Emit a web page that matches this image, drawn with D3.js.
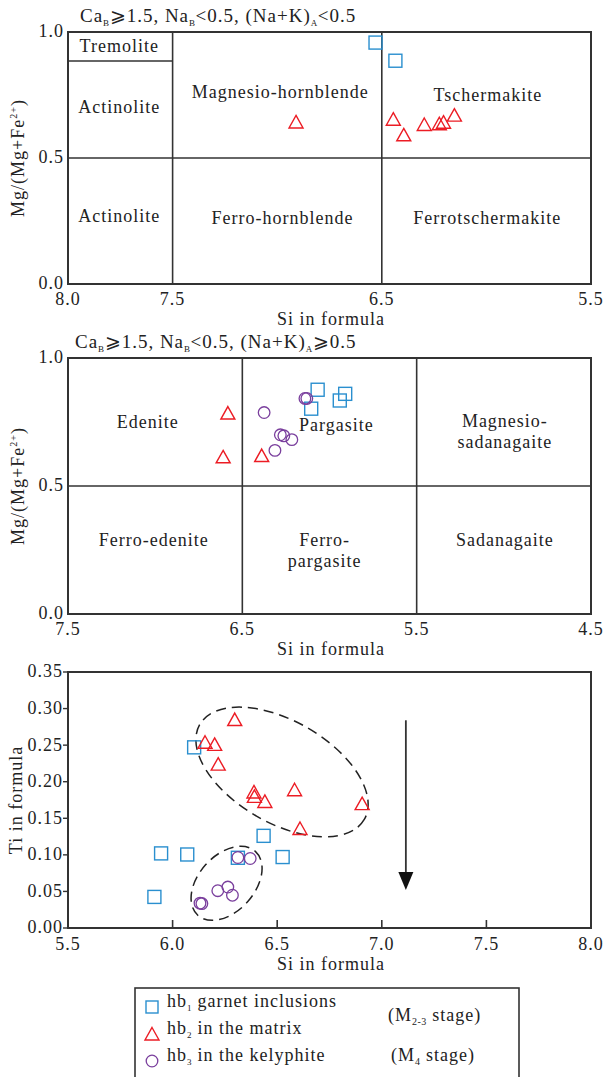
<!DOCTYPE html>
<html>
<head>
<meta charset="utf-8">
<script src="https://cdn.jsdelivr.net/npm/d3@7"></script>
<style>
  html, body { margin: 0; padding: 0; background: #fff; }
  svg { display: block; font-family: "Liberation Serif", "Times New Roman", serif; letter-spacing: 1px; }
</style>
</head>
<body>
<svg id="chart" width="606" height="1077"></svg>
<script>
// ---- data ----
// panel 1: Si vs Mg/(Mg+Fe2+), (Na+K)A < 0.5
const p1Squares = [[6.53, 0.958], [6.435, 0.886]];
const p1Triangles = [[6.91, 0.643], [6.445, 0.654], [6.395, 0.592], [6.297, 0.633],
                     [6.225, 0.636], [6.205, 0.642], [6.153, 0.670]];
// panel 2: (Na+K)A >= 0.5
const p2Squares = [[6.068, 0.876], [6.105, 0.802], [5.910, 0.860], [5.941, 0.834]];
const p2Triangles = [[6.583, 0.785], [6.61, 0.614], [6.389, 0.619]];
const p2Circles = [[6.375, 0.787], [6.313, 0.639], [6.282, 0.700], [6.262, 0.696],
                   [6.216, 0.681], [6.141, 0.842], [6.130, 0.842]];
// panel 3: Si vs Ti
const p3Squares = [[6.103, 0.247], [5.945, 0.102], [6.070, 0.1005], [5.913, 0.0425],
                   [6.312, 0.096], [6.435, 0.126], [6.526, 0.097]];
const p3Triangles = [[6.297, 0.285], [6.155, 0.254], [6.201, 0.251], [6.218, 0.224],
                     [6.389, 0.186], [6.391, 0.180], [6.441, 0.173], [6.583, 0.189],
                     [6.609, 0.136], [6.906, 0.170]];
const p3Circles = [[6.312, 0.0964], [6.371, 0.095], [6.216, 0.051], [6.264, 0.056],
                   [6.286, 0.0448], [6.131, 0.034], [6.140, 0.0334]];

const p1XTicks = [8.0, 7.5, 6.5, 5.5];
const p2XTicks = [7.5, 6.5, 5.5, 4.5];
const p3XTicks = [5.5, 6.0, 6.5, 7.0, 7.5, 8.0];
const mgTicks = [0.0, 0.5, 1.0];
const tiTicks = [0.00, 0.05, 0.10, 0.15, 0.20, 0.25, 0.30, 0.35];

const p1Fields = [
  { t: ["Tremolite"], x: 7.755, y: 0.946 },
  { t: ["Actinolite"], x: 7.755, y: 0.703 },
  { t: ["Actinolite"], x: 7.755, y: 0.270 },
  { t: ["Magnesio-hornblende"], x: 6.985, y: 0.762 },
  { t: ["Ferro-hornblende"], x: 6.975, y: 0.264 },
  { t: ["Tschermakite"], x: 5.993, y: 0.752 },
  { t: ["Ferrotschermakite"], x: 5.996, y: 0.264 }
];
const p2Fields = [
  { t: ["Edenite"], x: 7.042, y: 0.752 },
  { t: ["Pargasite"], x: 5.961, y: 0.739 },
  { t: ["Magnesio-", "sadanagaite"], x: 4.994, y: 0.713 },
  { t: ["Ferro-edenite"], x: 7.008, y: 0.289 },
  { t: ["Ferro-", "pargasite"], x: 6.028, y: 0.250 },
  { t: ["Sadanagaite"], x: 4.994, y: 0.289 }
];

// dashed fields in panel 3: centre (Si, Ti), semi-axes px, tilt deg
const ellipses = [
  { si: 6.523, ti: 0.2133, a: 95, b: 51, rot: 30 },
  { si: 6.258, ti: 0.0611, a: 43, b: 28, rot: -48 }
];
const trendArrow = { si: 7.115, from: 0.284, to: 0.052 };

const BLUE = "#2a8fcf", RED = "#ec1c24", PURPLE = "#7a3f9d", INK = "#333";
const FS = 18;

const svg = d3.select("#chart");
const left = 68, right = 591;

function drawMarkers(g, x, y, sq, tri, cir) {
  g.selectAll(".sq").data(sq).enter().append("rect")
    .attr("x", d => x(d[0]) - 6.5).attr("y", d => y(d[1]) - 6.5)
    .attr("width", 13).attr("height", 13)
    .attr("fill", "none").attr("stroke", BLUE).attr("stroke-width", 1.4);
  g.selectAll(".tri").data(tri).enter().append("path")
    .attr("d", d => {
      const cx = x(d[0]), cy = y(d[1]);
      return `M${cx},${cy - 6.5}L${cx + 7},${cy + 6}L${cx - 7},${cy + 6}Z`;
    })
    .attr("fill", "none").attr("stroke", RED).attr("stroke-width", 1.4);
  g.selectAll(".cir").data(cir).enter().append("circle")
    .attr("cx", d => x(d[0])).attr("cy", d => y(d[1])).attr("r", 5.8)
    .attr("fill", "none").attr("stroke", PURPLE).attr("stroke-width", 1.3);
}

// text with small subscripts: parts = [[text, sub], ...]
function subText(sel, parts, subSize) {
  let shifted = false;
  parts.forEach(p => {
    sel.append("tspan").attr("dy", shifted ? -4 : 0).text(p[0]);
    shifted = false;
    if (p[1]) {
      sel.append("tspan").attr("font-size", subSize).attr("letter-spacing", 0.5).attr("dy", 4).text(p[1]);
      shifted = true;
    }
  });
}

function mgPanel(top, bottom, xDomain, xTicks, verticals, extraLines, fields, titleParts, titleX, sq, tri, cir) {
  const x = d3.scaleLinear().domain(xDomain).range([left, right]);
  const y = d3.scaleLinear().domain([0, 1]).range([bottom, top]);
  const g = svg.append("g");

  // field boundaries
  verticals.forEach(v => g.append("line")
    .attr("x1", x(v)).attr("x2", x(v)).attr("y1", y(0)).attr("y2", y(1))
    .attr("stroke", INK).attr("stroke-width", 1.6));
  g.append("line").attr("x1", x(xDomain[0])).attr("x2", x(xDomain[1]))
    .attr("y1", y(0.5)).attr("y2", y(0.5)).attr("stroke", INK).attr("stroke-width", 1.6);
  extraLines.forEach(l => g.append("line")
    .attr("x1", x(l[0])).attr("x2", x(l[1])).attr("y1", y(l[2])).attr("y2", y(l[2]))
    .attr("stroke", INK).attr("stroke-width", 1.6));

  g.append("rect").attr("x", left).attr("y", top).attr("width", right - left)
    .attr("height", bottom - top).attr("fill", "none").attr("stroke", INK).attr("stroke-width", 2);

  fields.forEach(f => {
    const t = g.append("text").attr("x", x(f.x)).attr("y", y(f.y))
      .attr("text-anchor", "middle").attr("font-size", FS).attr("fill", "#222");
    f.t.forEach((s, i) => t.append("tspan").attr("x", x(f.x))
      .attr("dy", i === 0 ? (0.35 - (f.t.length - 1) * 0.58) + "em" : "1.16em").text(s));
  });

  // tick labels
  g.selectAll(".xt").data(xTicks).enter().append("text")
    .attr("x", d => x(d)).attr("y", bottom + 15).attr("dy", "0.35em")
    .attr("text-anchor", "middle").attr("font-size", FS).attr("fill", "#222")
    .text(d => d3.format(".1f")(d));
  g.selectAll(".yt").data(mgTicks).enter().append("text")
    .attr("x", left - 4).attr("y", d => y(d)).attr("dy", "0.3em")
    .attr("text-anchor", "end").attr("font-size", FS).attr("fill", "#222")
    .text(d => d3.format(".1f")(d));

  g.append("text").attr("x", 331).attr("y", bottom + 35).attr("dy", "0.35em")
    .attr("text-anchor", "middle").attr("font-size", FS).attr("fill", "#222").text("Si in formula");

  const yl = g.append("text").attr("transform", `translate(24,${(top + bottom) / 2}) rotate(-90)`)
    .attr("text-anchor", "middle").attr("font-size", FS).attr("fill", "#222");
  yl.append("tspan").text("Mg/(Mg+Fe");
  yl.append("tspan").attr("font-size", 10).attr("dy", -7).text("2+");
  yl.append("tspan").attr("dy", 7).text(")");

  const tt = g.append("text").attr("x", titleX).attr("y", top - 10)
    .attr("font-size", 19).attr("fill", "#222").attr("letter-spacing", 1);
  subText(tt, titleParts, 9);

  drawMarkers(g, x, y, sq, tri, cir);
}

mgPanel(32, 284, [8.0, 5.5], p1XTicks, [7.5, 6.5], [[8.0, 7.5, 0.885]], p1Fields,
  [["Ca", "B"], ["\u2A7E1.5, Na", "B"], ["<0.5, (Na+K)", "A"], ["<0.5"]], 80,
  p1Squares, p1Triangles, []);

mgPanel(358, 614, [7.5, 4.5], p2XTicks, [6.5, 5.5], [], p2Fields,
  [["Ca", "B"], ["\u2A7E1.5, Na", "B"], ["<0.5, (Na+K)", "A"], ["\u2A7E0.5"]], 75,
  p2Squares, p2Triangles, p2Circles);

// ---- panel 3 ----
{
  const top = 672, bottom = 928;
  const x = d3.scaleLinear().domain([5.5, 8.0]).range([left, right]);
  const y = d3.scaleLinear().domain([0, 0.35]).range([bottom, top]);
  const g = svg.append("g");

  g.append("rect").attr("x", left).attr("y", top).attr("width", right - left)
    .attr("height", bottom - top).attr("fill", "none").attr("stroke", INK).attr("stroke-width", 2);

  g.selectAll(".xtk").data(p3XTicks.slice(1, -1)).enter().append("line")
    .attr("x1", d => x(d)).attr("x2", d => x(d)).attr("y1", bottom).attr("y2", bottom - 8)
    .attr("stroke", INK).attr("stroke-width", 1.6);
  g.selectAll(".ytk").data(tiTicks).enter().append("line")
    .attr("x1", left - 5).attr("x2", left).attr("y1", d => y(d)).attr("y2", d => y(d))
    .attr("stroke", INK).attr("stroke-width", 1.4);

  g.selectAll(".xt").data(p3XTicks).enter().append("text")
    .attr("x", d => x(d)).attr("y", bottom + 16).attr("dy", "0.35em")
    .attr("text-anchor", "middle").attr("font-size", FS).attr("fill", "#222")
    .text(d => d3.format(".1f")(d));
  g.selectAll(".yt").data(tiTicks).enter().append("text")
    .attr("x", left - 5).attr("y", d => y(d)).attr("dy", "0.3em")
    .attr("text-anchor", "end").attr("font-size", FS).attr("fill", "#222")
    .text(d => d3.format(".2f")(d));

  g.append("text").attr("x", 331).attr("y", bottom + 36).attr("dy", "0.35em")
    .attr("text-anchor", "middle").attr("font-size", FS).attr("fill", "#222").text("Si in formula");
  g.append("text").attr("transform", `translate(22,${(top + bottom) / 2}) rotate(-90)`)
    .attr("text-anchor", "middle").attr("font-size", FS).attr("fill", "#222")
    .text("Ti in formula");

  ellipses.forEach(e => g.append("ellipse")
    .attr("transform", `translate(${x(e.si)},${y(e.ti)}) rotate(${e.rot})`)
    .attr("rx", e.a).attr("ry", e.b)
    .attr("fill", "none").attr("stroke", "#222").attr("stroke-width", 1.5)
    .attr("stroke-dasharray", "10,6"));

  // trend arrow
  const ax = x(trendArrow.si);
  g.append("line").attr("x1", ax).attr("x2", ax)
    .attr("y1", y(trendArrow.from)).attr("y2", y(trendArrow.to) - 15)
    .attr("stroke", INK).attr("stroke-width", 1.8);
  g.append("path")
    .attr("d", `M${ax - 7.5},${y(trendArrow.to) - 18}L${ax + 7.5},${y(trendArrow.to) - 18}L${ax},${y(trendArrow.to)}Z`)
    .attr("fill", "#111");

  drawMarkers(g, x, y, p3Squares, p3Triangles, p3Circles);
}

// ---- legend ----
{
  const g = svg.append("g");
  g.append("rect").attr("x", 135).attr("y", 988).attr("width", 384).attr("height", 120)
    .attr("fill", "none").attr("stroke", INK).attr("stroke-width", 1.6);
  const items = [
    { kind: "sq", label: "hb", sub: "1", rest: " garnet inclusions", y: 1007 },
    { kind: "tri", label: "hb", sub: "2", rest: " in the matrix", y: 1034 },
    { kind: "cir", label: "hb", sub: "3", rest: " in the kelyphite", y: 1061 }
  ];
  const mx = 152;
  items.forEach(it => {
    if (it.kind === "sq") g.append("rect").attr("x", mx - 6).attr("y", it.y - 6).attr("width", 12).attr("height", 12)
      .attr("fill", "none").attr("stroke", BLUE).attr("stroke-width", 1.4);
    if (it.kind === "tri") g.append("path").attr("d", `M${mx},${it.y - 6.5}L${mx + 7},${it.y + 6}L${mx - 7},${it.y + 6}Z`)
      .attr("fill", "none").attr("stroke", RED).attr("stroke-width", 1.4);
    if (it.kind === "cir") g.append("circle").attr("cx", mx).attr("cy", it.y).attr("r", 5.8)
      .attr("fill", "none").attr("stroke", PURPLE).attr("stroke-width", 1.3);
    const t = g.append("text").attr("x", 167).attr("y", it.y).attr("dy", "0.35em")
      .attr("font-size", FS).attr("fill", "#222");
    subText(t, [[it.label, it.sub], [it.rest]], 9);
  });
  const s1 = g.append("text").attr("x", 388).attr("y", 1021).attr("dy", "0.35em")
    .attr("font-size", FS).attr("fill", "#222");
  subText(s1, [["(M", "2-3"], [" stage)"]], 10);
  const s2 = g.append("text").attr("x", 391).attr("y", 1061).attr("dy", "0.35em")
    .attr("font-size", FS).attr("fill", "#222");
  subText(s2, [["(M", "4"], [" stage)"]], 10);
}
</script>
</body>
</html>
